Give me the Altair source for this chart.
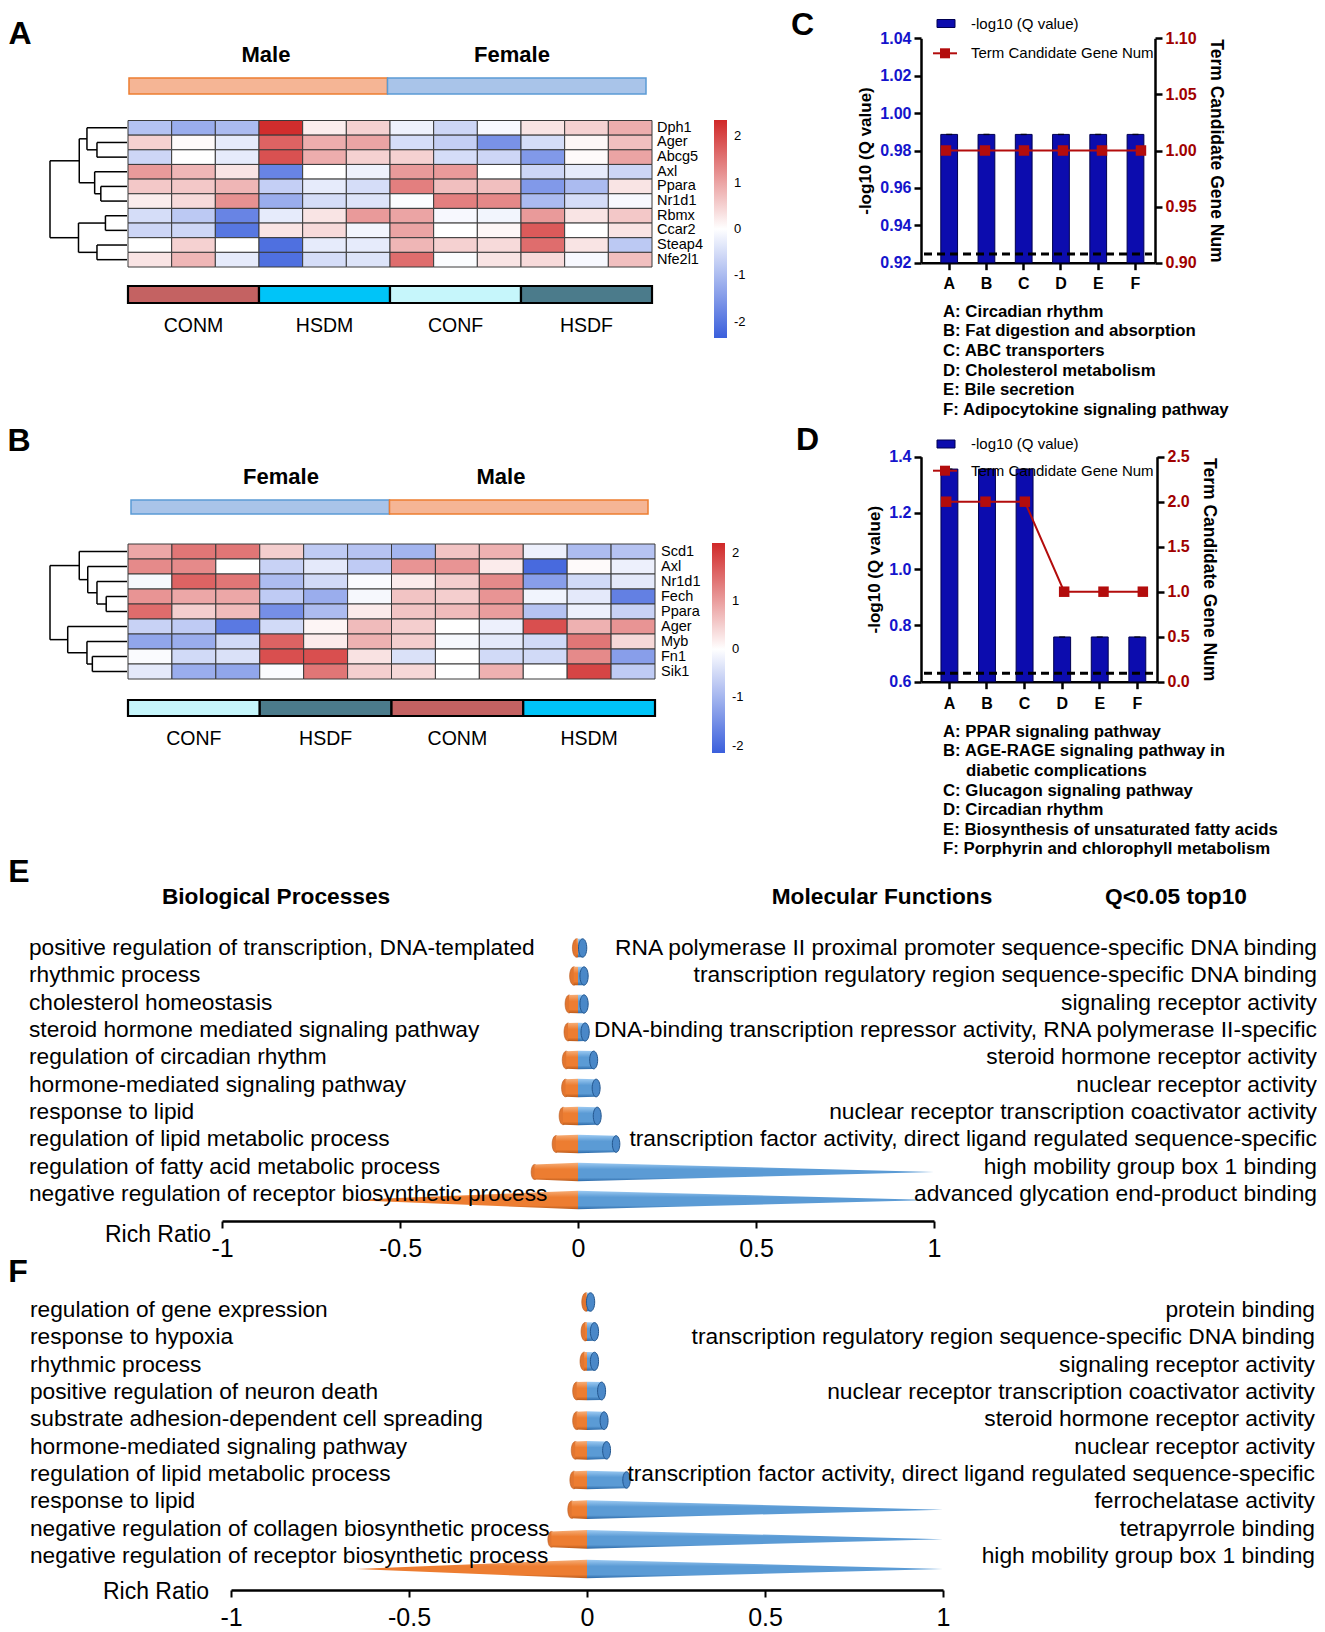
import math
import pandas as pd
import altair as alt

FONT = "Liberation Sans"
W, H = 1309, 1624


def px(v):
    return v - 8


# ---------------- Panel A (heatmap) ----------------
genes_A = ["Dph1", "Ager", "Abcg5", "Axl", "Ppara", "Nr1d1", "Rbmx", "Ccar2", "Steap4", "Nfe2l1"]
z_A = [
    [-0.9, -1.2, -1.0, 2.3, 0.2, 0.5, -0.2, -0.6, -0.1, 0.3, 0.5, 0.9],
    [0.5, 0.05, -0.3, 1.7, 0.9, 1.0, -0.5, -0.7, -1.6, -0.5, 0.1, 0.7],
    [-0.6, 0.0, -0.3, 1.9, 0.9, 0.5, 0.5, -0.5, -0.6, -1.5, 0.05, 1.0],
    [1.1, 0.8, 0.3, -1.8, 0.0, -0.2, 1.1, 1.1, 0.0, -0.6, -0.3, -0.6],
    [0.6, 0.6, 0.8, -0.7, -0.3, -0.5, 1.4, 0.7, 0.7, -1.5, -1.0, 0.3],
    [0.2, 0.4, 1.2, -1.2, -0.5, -0.4, -0.05, 1.4, 1.3, -1.0, -0.5, -0.1],
    [-0.5, -0.8, -1.8, -0.3, 0.3, 1.1, 1.0, -0.1, -0.15, 1.1, 0.3, 0.6],
    [-0.6, -0.6, -2.0, 0.3, 0.4, -0.15, 1.0, 0.0, 0.1, 1.8, 0.0, 0.3],
    [0.0, 0.5, 0.0, -2.1, -0.3, -0.3, 0.8, 0.5, 0.4, 1.6, 0.3, -0.8],
    [0.3, 0.8, -0.3, -2.1, -0.5, -0.4, 1.6, -0.05, 0.3, 0.4, -0.1, 0.7],
]
# merges: (left, right, height); ints refer to earlier merges
tree_A = [("Ager", "Abcg5", 0.39), ("Dph1", 0, 0.52), ("Ppara", "Nr1d1", 0.34), ("Axl", 2, 0.42),
          (1, 3, 0.62), ("Rbmx", "Ccar2", 0.28), ("Steap4", "Nfe2l1", 0.39), (5, 6, 0.63), (4, 7, 1.0)]
sex_A = ["Male", "Female"]
groups_A = ["CONM", "HSDM", "CONF", "HSDF"]

# ---------------- Panel B (heatmap) ----------------
genes_B = ["Scd1", "Axl", "Nr1d1", "Fech", "Ppara", "Ager", "Myb", "Fn1", "Sik1"]
z_B = [
    [0.9, 1.4, 1.4, 0.5, -0.7, -0.8, -1.0, 0.6, 0.8, -0.2, -0.9, -0.8],
    [1.2, 1.2, 0.0, -0.6, -0.3, -0.7, 1.1, 1.1, 0.2, -2.0, 0.05, -0.2],
    [-0.1, 1.6, 1.4, -0.9, -0.5, -0.05, 0.2, 0.5, 1.2, -1.3, -0.5, -0.3],
    [1.1, 0.9, 0.9, -0.7, -1.1, -0.1, 0.6, 0.5, 1.1, -0.15, -0.3, -1.7],
    [1.5, 0.5, 0.7, -1.5, -0.9, 0.2, 0.6, 0.7, 1.0, -0.8, -0.2, -0.6],
    [-0.6, -0.7, -1.8, -0.5, 0.1, 0.7, 0.5, 0.0, -0.2, 1.8, 0.8, 1.1],
    [-1.2, -1.1, -0.5, 1.6, 0.2, 0.8, 0.5, -0.1, -0.3, -0.5, 1.4, 0.4],
    [-0.05, -0.5, -0.4, 1.8, 1.8, 0.3, -0.4, 0.0, -0.5, -0.5, 1.2, -1.3],
    [-0.3, -1.1, -1.2, -0.05, 1.4, 0.5, 0.4, 0.0, 0.8, 0.0, 1.9, -0.7],
]
tree_B = [("Fech", "Ppara", 0.27), ("Nr1d1", 0, 0.39), ("Axl", 1, 0.51), ("Scd1", 2, 0.62),
          ("Fn1", "Sik1", 0.45), ("Myb", 4, 0.52), ("Ager", 5, 0.77), (3, 6, 1.0)]
sex_B = ["Female", "Male"]
groups_B = ["CONF", "HSDF", "CONM", "HSDM"]

heat_ticks = [2, 1, 0, -1, -2]

# ---------------- Panels C / D (KEGG bars) ----------------
terms = ["A", "B", "C", "D", "E", "F"]
q_C = [0.9886, 0.9886, 0.9886, 0.9886, 0.9886, 0.9886]
n_C = [1, 1, 1, 1, 1, 1]
cut_C = 0.9246
desc_C = ["A: Circadian rhythm", "B: Fat digestion and absorption", "C: ABC transporters",
          "D: Cholesterol metabolism", "E: Bile secretion", "F: Adipocytokine signaling pathway"]
indent_C = [0, 0, 0, 0, 0, 0]

q_D = [1.356, 1.356, 1.356, 0.759, 0.759, 0.759]
n_D = [2, 2, 2, 1, 1, 1]
cut_D = 0.630
desc_D = ["A: PPAR signaling pathway", "B: AGE-RAGE signaling pathway in", "diabetic complications",
          "C: Glucagon signaling pathway", "D: Circadian rhythm",
          "E: Biosynthesis of unsaturated fatty acids", "F: Porphyrin and chlorophyll metabolism"]
indent_D = [0, 0, 1, 0, 0, 0, 0]

# ---------------- Panels E / F (GO rich ratio) ----------------
bp_E = ["positive regulation of transcription, DNA-templated", "rhythmic process", "cholesterol homeostasis",
        "steroid hormone mediated signaling pathway", "regulation of circadian rhythm",
        "hormone-mediated signaling pathway", "response to lipid", "regulation of lipid metabolic process",
        "regulation of fatty acid metabolic process", "negative regulation of receptor biosynthetic process"]
mf_E = ["RNA polymerase II proximal promoter sequence-specific DNA binding",
        "transcription regulatory region sequence-specific DNA binding", "signaling receptor activity",
        "DNA-binding transcription repressor activity, RNA polymerase II-specific",
        "steroid hormone receptor activity", "nuclear receptor activity",
        "nuclear receptor transcription coactivator activity",
        "transcription factor activity, direct ligand regulated sequence-specific",
        "high mobility group box 1 binding", "advanced glycation end-product binding"]
bp_ratio_E = [-0.004, -0.012, -0.025, -0.028, -0.033, -0.035, -0.042, -0.062, -0.122, -0.645]
mf_ratio_E = [0.013, 0.017, 0.017, 0.02, 0.044, 0.051, 0.054, 0.107, 1.0, 0.97]

bp_F = ["regulation of gene expression", "response to hypoxia", "rhythmic process",
        "positive regulation of neuron death", "substrate adhesion-dependent cell spreading",
        "hormone-mediated signaling pathway", "regulation of lipid metabolic process", "response to lipid",
        "negative regulation of collagen biosynthetic process",
        "negative regulation of receptor biosynthetic process"]
mf_F = ["protein binding", "transcription regulatory region sequence-specific DNA binding",
        "signaling receptor activity", "nuclear receptor transcription coactivator activity",
        "steroid hormone receptor activity", "nuclear receptor activity",
        "transcription factor activity, direct ligand regulated sequence-specific",
        "ferrochelatase activity", "tetrapyrrole binding", "high mobility group box 1 binding"]
bp_ratio_F = [-0.003, -0.005, -0.008, -0.029, -0.029, -0.033, -0.037, -0.043, -0.10, -0.65]
mf_ratio_F = [0.01, 0.021, 0.021, 0.041, 0.048, 0.055, 0.111, 1.0, 1.0, 1.0]
rich_ticks = [-1, -0.5, 0, 0.5, 1]

# ---------------- styles ----------------
GROUP_COLORS = {"CONM": "#c46262", "HSDM": "#00c4f8", "CONF": "#c6f6fb", "HSDF": "#4b7b8b"}
SEX_FILL = {"Male": "#f5b595", "Female": "#a9c4e9"}
SEX_STROKE = {"Male": "#ed7d31", "Female": "#5b9bd5"}
NAVY = "#0c0cae"
RED = "#b30c0c"
BLUE_LAB = "#1414cc"
RED_LAB = "#a00000"

one = pd.DataFrame({"k": [0]})


def text_layer(s, x, y, size, weight="normal", align="center", color="black", baseline="middle"):
    return alt.Chart(pd.DataFrame({"t": [s]})).mark_text(
        font=FONT, fontSize=size, fontWeight=weight, align=align, baseline=baseline, color=color
    ).encode(x=alt.value(px(x)), y=alt.value(px(y)), text="t:N")


def dendro_segments(genes, tree):
    pos = {g: (i + 0.5, 0.0) for i, g in enumerate(genes)}
    nodes, segs = [], []

    def get(k):
        return nodes[k] if isinstance(k, int) else pos[k]

    for a, b, h in tree:
        ya, ha = get(a)
        yb, hb = get(b)
        segs.append(dict(x0=ha, x1=h, y0=ya, y1=ya))
        segs.append(dict(x0=hb, x1=h, y0=yb, y1=yb))
        segs.append(dict(x0=h, x1=h, y0=ya, y1=yb))
        nodes.append(((ya + yb) / 2, h))
    return pd.DataFrame(segs)


def heatmap(genes, z, tree, sexes, groups, xr, yr, sex_xr, lab_x, leg_x, leg_y, leg_len, cdom,
            sex_y, sex_lab, grp_y, grp_lab_y, root_x):
    n = len(genes)
    xs = alt.Scale(domain=[0, 12], range=[px(xr[0]), px(xr[1])], nice=False, zero=False)
    xsx = alt.Scale(domain=[0, 12], range=[px(sex_xr[0]), px(sex_xr[1])], nice=False, zero=False)
    ys = alt.Scale(domain=[0, n], range=[px(yr[0]), px(yr[1])], nice=False, zero=False)
    cells = pd.DataFrame([dict(gene=g, c0=j, c1=j + 1, r0=i, r1=i + 1, v=z[i][j])
                          for i, g in enumerate(genes) for j in range(12)])
    L = []
    L.append(alt.Chart(cells).mark_rect(stroke="#3a3a3a", strokeWidth=1).encode(
        x=alt.X("c0:Q", scale=xs, axis=None), x2="c1:Q",
        y=alt.Y("r0:Q", scale=ys, axis=None), y2="r1:Q",
        color=alt.Color("v:Q", scale=alt.Scale(domain=[cdom[0], 0, cdom[1]],
                                               range=["#3a5fdc", "#ffffff", "#d02828"], interpolate="rgb"),
                        legend=alt.Legend(orient="none", legendX=px(leg_x), legendY=px(leg_y),
                                          direction="vertical", gradientLength=leg_len, gradientThickness=13,
                                          title=None, values=heat_ticks, labelFont=FONT, labelFontSize=13,
                                          labelExpr="'' + datum.value",
                                          labelColor="black", labelOffset=7, gradientStrokeWidth=0,
                                          padding=0))))
    labs = pd.DataFrame({"gene": genes, "yc": [i + 0.5 for i in range(n)]})
    L.append(alt.Chart(labs).mark_text(font=FONT, fontSize=14.5, align="left", baseline="middle").encode(
        x=alt.value(px(lab_x)), y=alt.Y("yc:Q", scale=ys, axis=None), text="gene:N"))
    segs = dendro_segments(genes, tree)
    hs = alt.Scale(domain=[0, 1], range=[px(xr[0] - 1), px(root_x)], nice=False, zero=False)
    L.append(alt.Chart(segs).mark_rule(color="black", strokeWidth=1.5).encode(
        x=alt.X("x0:Q", scale=hs, axis=None), x2="x1:Q",
        y=alt.Y("y0:Q", scale=ys, axis=None), y2="y1:Q"))
    sx = pd.DataFrame({"sex": sexes, "c0": [0, 6], "c1": [6, 12]})
    L.append(alt.Chart(sx).mark_rect(strokeWidth=1.5).encode(
        x=alt.X("c0:Q", scale=xsx, axis=None), x2="c1:Q",
        y=alt.value(px(sex_y[0])), y2=alt.value(px(sex_y[1])),
        color=alt.Color("sex:N", scale=alt.Scale(domain=sexes, range=[SEX_FILL[s] for s in sexes]), legend=None),
        stroke=alt.Stroke("sex:N", scale=alt.Scale(domain=sexes, range=[SEX_STROKE[s] for s in sexes]),
                          legend=None)))
    for s, (lx, ly) in zip(sexes, sex_lab):
        L.append(text_layer(s, lx, ly, 22, weight="bold"))
    gp = pd.DataFrame({"grp": groups, "c0": [0, 3, 6, 9], "c1": [3, 6, 9, 12], "mid": [1.5, 4.5, 7.5, 10.5]})
    L.append(alt.Chart(gp).mark_rect(stroke="black", strokeWidth=2.2).encode(
        x=alt.X("c0:Q", scale=xs, axis=None), x2="c1:Q",
        y=alt.value(px(grp_y[0])), y2=alt.value(px(grp_y[1])),
        color=alt.Color("grp:N", scale=alt.Scale(domain=groups, range=[GROUP_COLORS[g] for g in groups]),
                        legend=None)))
    L.append(alt.Chart(gp).mark_text(font=FONT, fontSize=19.5, baseline="middle").encode(
        x=alt.X("mid:Q", scale=xs, axis=None), y=alt.value(px(grp_lab_y)), text="grp:N"))
    return L


def enrich(q, n, cut, desc, indent, x0, x1, ytop, ybot, ldom, lvals, lfmt, rdom, rvals, rfmt,
           leg1_y, leg2_y, desc_y0, desc_y1, xpad):
    xb = alt.Scale(domain=terms, range=[px(x0), px(x1)], paddingInner=0.55, paddingOuter=0.415, align=0.64)
    yl = alt.Scale(domain=ldom, range=[px(ybot), px(ytop)], nice=False, zero=False)
    yr = alt.Scale(domain=rdom, range=[px(ybot), px(ytop)], nice=False, zero=False)
    df = pd.DataFrame({"term": terms, "q": q, "n": n})
    common = dict(labelFont=FONT, labelFontWeight="bold", labelFontSize=16, tickColor="black",
                  tickWidth=2.5, tickSize=7, domainColor="black", domainWidth=2.5, grid=False)
    L = []
    L.append(alt.Chart(df).mark_bar(color=NAVY, stroke="#000050", strokeWidth=1).encode(
        x=alt.X("term:N", scale=xb, axis=alt.Axis(orient="bottom", offset=px(ybot) - H, labelAngle=0,
                                                   labelColor="black", title=None, labelPadding=xpad, **common)),
        y=alt.Y("q:Q", scale=yl, axis=alt.Axis(orient="left", offset=-px(x0), values=lvals, format=lfmt,
                                               labelColor=BLUE_LAB, title="-log10 (Q value)", titleFont=FONT,
                                               titleFontSize=17, titleFontWeight="bold", titleColor="black",
                                               titlePadding=5, labelPadding=3, **common)),
        y2=alt.datum(ldom[0])))
    L.append(alt.Chart(df).mark_tick(color="black", thickness=1.5, size=6).encode(
        x=alt.X("term:N", scale=xb, axis=None), y=alt.Y("q:Q", scale=yl, axis=None)))
    L.append(alt.Chart(pd.DataFrame({"c": [cut]})).mark_rule(color="black", strokeWidth=3, strokeDash=[8, 5]).encode(
        x=alt.value(px(x0 + 3)), x2=alt.value(px(x1 - 3)), y=alt.Y("c:Q", scale=yl, axis=None)))
    L.append(alt.Chart(df).mark_line(color=RED, strokeWidth=2).encode(
        x=alt.X("term:N", scale=xb, axis=None),
        y=alt.Y("n:Q", scale=yr, axis=alt.Axis(orient="right", offset=px(x1) - W, values=rvals, format=rfmt,
                                               labelColor=RED_LAB, title="Term Candidate Gene Num",
                                               titleFont=FONT, titleFontSize=17.5, titleFontWeight="bold",
                                               titleColor="black", titlePadding=10, labelPadding=3, **common))))
    L.append(alt.Chart(df).mark_point(shape="square", filled=True, size=110, color=RED, opacity=1).encode(
        x=alt.X("term:N", scale=xb, axis=None), y=alt.Y("n:Q", scale=yr, axis=None)))
    # legend
    L.append(alt.Chart(one).mark_rect(color=NAVY, stroke="#000050").encode(
        x=alt.value(px(937)), x2=alt.value(px(955)), y=alt.value(px(leg1_y - 4)), y2=alt.value(px(leg1_y + 4))))
    L.append(text_layer("-log10 (Q value)", 971, leg1_y, 15, align="left"))
    L.append(alt.Chart(one).mark_rule(color=RED, strokeWidth=2).encode(
        x=alt.value(px(933)), x2=alt.value(px(957)), y=alt.value(px(leg2_y))))
    L.append(alt.Chart(one).mark_point(shape="square", filled=True, size=100, color=RED, opacity=1).encode(
        x=alt.value(px(945)), y=alt.value(px(leg2_y))))
    L.append(text_layer("Term Candidate Gene Num", 971, leg2_y, 15, align="left"))
    dd = pd.DataFrame({"t": desc, "i": list(range(len(desc))), "ind": indent})
    L.append(alt.Chart(dd).mark_text(font=FONT, fontSize=16.8, fontWeight="bold", align="left",
                                     baseline="middle").encode(
        x=alt.X("ind:Q", scale=alt.Scale(domain=[0, 1], range=[px(943), px(966)], nice=False, zero=False),
                axis=None),
        y=alt.Y("i:Q", scale=alt.Scale(domain=[0, len(desc) - 1], range=[px(desc_y0), px(desc_y1)],
                                       nice=False, zero=False), axis=None),
        text="t:N"))
    return L


# ellipse shape for cylinder caps
ell_pts = [(0.45 * math.sin(2 * math.pi * k / 32), -math.cos(2 * math.pi * k / 32)) for k in range(32)]
ELLIPSE = "M" + "L".join(f"{a:.3f},{b:.3f}" for a, b in ell_pts) + "Z"


def cone(vals, h0):
    M = max(abs(v) for v in vals)
    body, caps = [], []
    for i, v in enumerate(vals):
        t = max(0.0, 1 - abs(v) / M)
        body += [dict(row=i, x=0.0, lo=i - h0, hi=i + h0), dict(row=i, x=v, lo=i - h0 * t, hi=i + h0 * t)]
        caps.append(dict(row=i, x=v, t=t))
    return pd.DataFrame(body), pd.DataFrame(caps)


def grad(light, mid, dark):
    return alt.Gradient(gradient="linear", x1=0, x2=0, y1=0, y2=1, stops=[
        alt.GradientStop(color=light, offset=0), alt.GradientStop(color=mid, offset=0.35),
        alt.GradientStop(color=mid, offset=0.8), alt.GradientStop(color=dark, offset=1)])


def go_panel(bp, mf, bp_r, mf_r, x_rng, bar_y, lab_y, axis_y, left_x, right_x, rich_xy):
    xs = alt.Scale(domain=[-1, 1], range=[px(x_rng[0]), px(x_rng[1])], nice=False, zero=False)
    yb = alt.Scale(domain=[0, 9], range=[px(bar_y[0]), px(bar_y[1])], nice=False, zero=False)
    yl = alt.Scale(domain=[0, 9], range=[px(lab_y[0]), px(lab_y[1])], nice=False, zero=False)
    step = (bar_y[1] - bar_y[0]) / 9.0
    h_px = 9.3
    h0 = h_px / step
    smax = (2 * h_px) ** 2
    ob, oc = cone(bp_r, h0)
    bb, bc = cone(mf_r, h0)
    sz = alt.Scale(type="pow", exponent=2, domain=[0, 1], range=[0, smax])
    L = []
    L.append(alt.Chart(oc).mark_point(shape=ELLIPSE, filled=True, opacity=1, fill="#e27630", stroke="#b9591c",
                                      strokeWidth=0.6).encode(
        x=alt.X("x:Q", scale=xs, axis=None), y=alt.Y("row:Q", scale=yb, axis=None),
        size=alt.Size("t:Q", scale=sz, legend=None)))
    L.append(alt.Chart(ob).mark_area(orient="vertical", color=grad("#f6ae78", "#ed7d31", "#b85a1c")).encode(
        x=alt.X("x:Q", scale=xs, axis=None), y=alt.Y("lo:Q", scale=yb, axis=None, stack=None), y2="hi:Q",
        detail="row:N"))
    L.append(alt.Chart(bb).mark_area(orient="vertical", color=grad("#9ccaf2", "#5b9bd5", "#2d6aa8")).encode(
        x=alt.X("x:Q", scale=xs, axis=alt.Axis(orient="bottom", offset=px(axis_y) - H, values=rich_ticks,
                                               labelExpr="'' + datum.value", labelFont=FONT, labelFontSize=25,
                                               labelColor="black", labelFlush=False, labelOverlap=False,
                                               tickColor="black", tickWidth=2, tickSize=7, domainColor="black",
                                               domainWidth=2.5, grid=False, title=None, labelPadding=8)),
        y=alt.Y("lo:Q", scale=yb, axis=None, stack=None), y2="hi:Q", detail="row:N"))
    L.append(alt.Chart(bc).mark_point(shape=ELLIPSE, filled=True, opacity=1, fill="#4a88c8", stroke="#24578f",
                                      strokeWidth=1).encode(
        x=alt.X("x:Q", scale=xs, axis=None), y=alt.Y("row:Q", scale=yb, axis=None),
        size=alt.Size("t:Q", scale=sz, legend=None)))
    ldf = pd.DataFrame({"t": bp, "i": list(range(10))})
    rdf = pd.DataFrame({"t": mf, "i": list(range(10))})
    L.append(alt.Chart(ldf).mark_text(font=FONT, fontSize=22.7, align="left", baseline="middle").encode(
        x=alt.value(px(left_x)), y=alt.Y("i:Q", scale=yl, axis=None), text="t:N"))
    L.append(alt.Chart(rdf).mark_text(font=FONT, fontSize=22.8, align="right", baseline="middle").encode(
        x=alt.value(px(right_x)), y=alt.Y("i:Q", scale=yl, axis=None), text="t:N"))
    L.append(text_layer("Rich Ratio", rich_xy[0], rich_xy[1], 23))
    return L


layers = []
# panel letters (baseline positions)
for s, x, y in [("A", 20, 43.5), ("B", 19, 450.5), ("C", 802.5, 34.5), ("D", 807.5, 449.5),
                ("E", 19, 881.5), ("F", 18, 1282)]:
    layers.append(text_layer(s, x, y, 32, weight="bold", baseline="alphabetic"))

layers += heatmap(genes_A, z_A, tree_A, sex_A, groups_A, xr=(128, 652), yr=(120.5, 267), sex_xr=(129, 646),
                  lab_x=657, leg_x=714, leg_y=120, leg_len=218, cdom=(-2.35, 2.35), sex_y=(78, 94),
                  sex_lab=[(266, 55), (512, 55)], grp_y=(286, 303), grp_lab_y=326, root_x=50)
layers += heatmap(genes_B, z_B, tree_B, sex_B, groups_B, xr=(128, 655), yr=(544, 679), sex_xr=(131, 648),
                  lab_x=661, leg_x=712, leg_y=543, leg_len=210, cdom=(-2.15, 2.2), sex_y=(500, 514),
                  sex_lab=[(281, 477), (501, 477)], grp_y=(700, 716), grp_lab_y=739, root_x=50)

layers += enrich(q_C, n_C, cut_C, desc_C, indent_C, x0=921, x1=1155, ytop=38.3, ybot=262.7,
                 ldom=[0.92, 1.04], lvals=[0.92, 0.94, 0.96, 0.98, 1.00, 1.02, 1.04], lfmt=".2f",
                 rdom=[0.90, 1.10], rvals=[0.90, 0.95, 1.00, 1.05, 1.10], rfmt=".2f",
                 leg1_y=23.5, leg2_y=53.3, desc_y0=311.7, desc_y1=410, xpad=6)
layers += enrich(q_D, n_D, cut_D, desc_D, indent_D, x0=921, x1=1157, ytop=456.7, ybot=681.7,
                 ldom=[0.6, 1.4], lvals=[0.6, 0.8, 1.0, 1.2, 1.4], lfmt=".1f",
                 rdom=[0.0, 2.5], rvals=[0.0, 0.5, 1.0, 1.5, 2.0, 2.5], rfmt=".1f",
                 leg1_y=444, leg2_y=470.7, desc_y0=731.7, desc_y1=849.3, xpad=7)

layers.append(text_layer("Biological Processes", 276, 897, 22.7, weight="bold"))
layers.append(text_layer("Molecular Functions", 882, 897, 22.7, weight="bold"))
layers.append(text_layer("Q<0.05 top10", 1176, 897, 22.7, weight="bold"))
layers += go_panel(bp_E, mf_E, bp_ratio_E, mf_ratio_E, x_rng=(222, 934), bar_y=(948, 1200), lab_y=(948, 1194),
                   axis_y=1221, left_x=29, right_x=1317, rich_xy=(158, 1235))
layers += go_panel(bp_F, mf_F, bp_ratio_F, mf_ratio_F, x_rng=(231, 943), bar_y=(1302, 1569), lab_y=(1310, 1556),
                   axis_y=1590, left_x=30, right_x=1315, rich_xy=(156, 1592))

chart = alt.layer(*layers).resolve_scale(
    x="independent", y="independent", color="independent", stroke="independent", size="independent"
).properties(
    width=W, height=H, padding=0, background="white", autosize=alt.AutoSizeParams(type="none")
).configure_view(strokeWidth=0)

chart.save("out.html", embed_options={"renderer": "svg", "actions": False})
